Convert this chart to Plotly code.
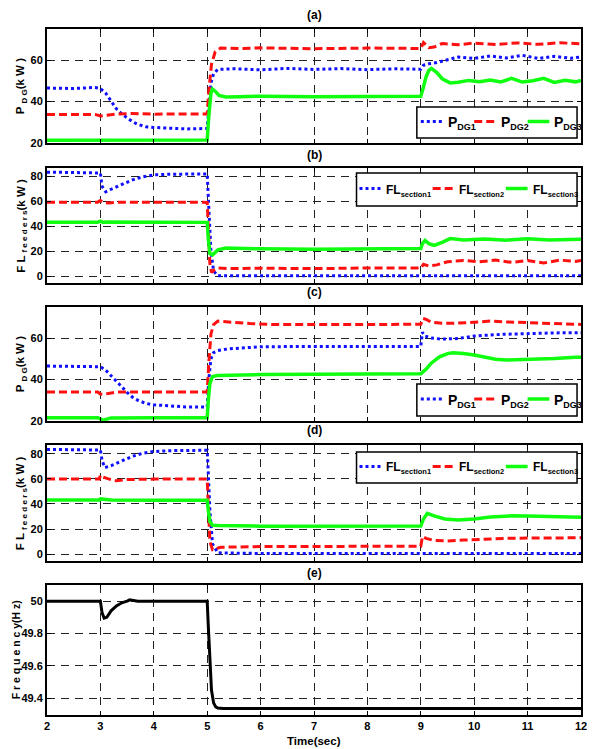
import plotly.graph_objects as go

# ---------------- data ----------------
# Panel (a): P_DG (kW)
t_a1 = [2.0, 2.5, 2.9, 3.0, 3.1, 3.2, 3.3, 3.4, 3.5, 3.6, 3.7, 3.85, 4.0, 4.3, 4.6, 5.0, 5.03, 5.07, 5.12, 5.2, 5.5, 6.0, 6.5, 7.0, 7.5, 8.0, 8.5, 9.0, 9.05, 9.15, 9.3, 9.5, 9.7, 10.0, 10.3, 10.6, 10.9, 11.2, 11.5, 11.8, 12.0]
v_a1 = [46.5, 46.3, 46.8, 46.3, 44.0, 40.5, 36.5, 34.0, 32.0, 30.3, 29.0, 27.8, 27.5, 27.0, 26.8, 27.0, 38.0, 49.0, 53.5, 55.5, 55.8, 55.3, 56.0, 55.5, 55.9, 55.4, 55.8, 55.6, 57.5, 58.2, 58.8, 60.2, 61.5, 60.8, 62.0, 61.0, 62.3, 60.8, 61.8, 60.9, 61.5]
t_a2 = [2.0, 2.9, 3.0, 3.1, 3.3, 3.6, 4.0, 4.5, 5.0, 5.03, 5.08, 5.15, 5.25, 5.6, 6.0, 7.0, 8.0, 9.0, 9.05, 9.15, 9.25, 9.4, 9.7, 10.0, 10.4, 10.8, 11.2, 11.6, 12.0]
v_a2 = [33.8, 33.8, 33.0, 33.3, 34.0, 34.2, 33.9, 34.0, 34.0, 45.0, 58.0, 64.0, 65.8, 65.6, 65.9, 65.5, 65.8, 65.6, 68.5, 66.0, 66.3, 68.0, 67.4, 68.2, 67.5, 68.3, 67.6, 68.4, 67.8]
t_a3 = [2.0, 3.0, 4.0, 5.0, 5.03, 5.07, 5.1, 5.15, 5.22, 5.35, 5.6, 6.0, 7.0, 8.0, 9.0, 9.05, 9.1, 9.15, 9.2, 9.3, 9.4, 9.55, 9.7, 9.9, 10.1, 10.3, 10.5, 10.7, 10.9, 11.1, 11.3, 11.5, 11.7, 11.9, 12.0]
v_a3 = [21.3, 21.5, 21.4, 21.5, 33.0, 44.0, 46.0, 45.0, 43.0, 42.2, 42.3, 42.6, 42.3, 42.6, 42.5, 47.0, 52.0, 55.0, 56.0, 54.0, 51.0, 49.0, 49.3, 50.2, 49.6, 50.4, 49.5, 51.2, 49.4, 50.0, 51.2, 49.2, 50.3, 49.5, 50.2]

# Panel (b): FL feeders (kW)
t_b1 = [2.0, 2.5, 3.0, 3.03, 3.1, 3.2, 3.4, 3.6, 3.8, 4.0, 4.3, 4.6, 5.0, 5.03, 5.07, 5.12, 5.2, 6.0, 7.0, 8.0, 9.0, 10.0, 11.0, 12.0]
v_b1 = [83.2, 82.8, 82.5, 72.0, 67.5, 69.5, 73.5, 77.0, 79.5, 81.0, 81.5, 81.8, 81.8, 55.0, 20.0, 4.0, 0.3, 0.2, 0.2, 0.2, 0.2, 0.2, 0.2, 0.2]
t_b2 = [2.0, 2.95, 3.0, 3.05, 3.15, 3.3, 4.0, 5.0, 5.02, 5.05, 5.08, 5.12, 5.2, 5.4, 6.0, 7.0, 8.0, 8.9, 9.0, 9.05, 9.15, 9.3, 9.5, 9.8, 10.1, 10.4, 10.7, 11.0, 11.3, 11.6, 11.9, 12.0]
v_b2 = [59.2, 59.2, 60.5, 59.0, 58.5, 59.0, 59.2, 59.0, 40.0, 10.0, 3.0, 4.5, 6.5, 6.0, 6.3, 6.0, 6.5, 6.8, 6.5, 9.5, 8.0, 9.0, 11.5, 12.5, 11.5, 12.8, 11.0, 12.5, 10.5, 12.8, 11.8, 12.6]
t_b3 = [2.0, 2.95, 3.0, 3.05, 3.1, 4.0, 5.0, 5.02, 5.05, 5.1, 5.2, 5.35, 6.0, 7.0, 8.0, 9.0, 9.03, 9.08, 9.15, 9.25, 9.4, 9.55, 9.8, 10.2, 10.6, 11.0, 11.4, 11.8, 12.0]
v_b3 = [43.0, 43.0, 44.0, 43.0, 43.3, 43.0, 43.0, 30.0, 18.0, 17.0, 21.0, 22.5, 21.8, 21.5, 21.8, 22.0, 26.0, 28.5, 26.0, 24.5, 27.0, 30.0, 29.0, 29.8, 28.8, 30.0, 29.0, 29.8, 29.5]

# Panel (c): P_DG (kW)
t_c1 = [2.0, 2.9, 3.0, 3.1, 3.2, 3.3, 3.4, 3.5, 3.6, 3.7, 3.85, 4.0, 4.3, 4.6, 5.0, 5.03, 5.07, 5.12, 5.2, 5.4, 5.7, 6.0, 7.0, 8.0, 9.0, 9.03, 9.08, 9.2, 9.4, 9.7, 10.0, 10.5, 11.0, 11.5, 12.0]
v_c1 = [46.5, 46.5, 46.2, 44.5, 42.0, 39.3, 36.5, 33.8, 31.5, 30.0, 28.5, 27.8, 27.2, 26.8, 26.8, 40.0, 50.0, 53.0, 54.0, 54.8, 55.3, 55.8, 56.0, 56.0, 56.0, 62.8, 61.0, 60.0, 59.5, 59.8, 61.0, 61.8, 62.2, 62.5, 62.6]
t_c2 = [2.0, 2.95, 3.0, 3.05, 3.15, 3.3, 4.0, 5.0, 5.03, 5.07, 5.12, 5.2, 5.4, 5.8, 6.3, 7.0, 8.0, 9.0, 9.04, 9.1, 9.2, 9.4, 9.6, 9.9, 10.3, 10.6, 11.0, 11.5, 12.0]
v_c2 = [34.0, 34.0, 33.0, 32.8, 33.3, 34.0, 34.0, 34.0, 48.0, 62.0, 66.5, 68.2, 67.8, 67.0, 66.5, 66.4, 66.5, 66.7, 69.5, 69.0, 67.6, 67.2, 67.1, 67.5, 68.2, 67.8, 67.3, 67.0, 66.6]
t_c3 = [2.0, 2.95, 3.0, 3.05, 3.1, 3.2, 4.0, 5.0, 5.02, 5.05, 5.1, 5.2, 6.0, 7.0, 8.0, 9.0, 9.1, 9.2, 9.35, 9.5, 9.6, 9.8, 10.0, 10.2, 10.4, 10.6, 11.0, 11.5, 11.9, 12.0]
v_c3 = [21.6, 21.6, 21.0, 20.3, 20.8, 21.5, 21.6, 21.6, 30.0, 38.0, 41.5, 42.0, 42.4, 42.6, 42.7, 42.8, 45.0, 48.0, 51.0, 52.5, 52.9, 52.6, 51.8, 50.6, 49.8, 49.4, 49.6, 50.1, 50.7, 50.7]

# Panel (d): FL feeders (kW)
t_d1 = [2.0, 2.9, 3.0, 3.03, 3.08, 3.2, 3.4, 3.6, 3.8, 4.0, 4.3, 5.0, 5.02, 5.05, 5.1, 5.2, 6.0, 7.0, 8.0, 9.0, 10.0, 11.0, 12.0]
v_d1 = [83.5, 83.2, 83.0, 75.0, 69.0, 70.5, 74.5, 78.0, 80.5, 81.8, 82.5, 82.8, 65.0, 35.0, 8.0, 1.0, 0.5, 0.5, 0.5, 0.5, 0.5, 0.5, 0.5]
t_d2 = [2.0, 2.98, 3.0, 3.05, 3.15, 3.3, 3.5, 4.0, 5.0, 5.02, 5.05, 5.1, 5.25, 6.0, 7.0, 8.0, 9.0, 9.03, 9.1, 9.25, 9.5, 9.8, 10.2, 10.6, 11.0, 11.5, 12.0]
v_d2 = [59.8, 59.8, 63.0, 61.5, 60.0, 58.5, 59.5, 59.8, 59.8, 40.0, 10.0, 3.5, 5.5, 6.0, 6.2, 6.3, 6.3, 14.0, 12.5, 10.8, 10.5, 11.2, 12.0, 12.6, 12.8, 13.0, 13.0]
t_d3 = [2.0, 2.98, 3.0, 3.1, 3.2, 4.0, 5.0, 5.02, 5.05, 5.1, 5.2, 6.0, 7.0, 8.0, 9.0, 9.05, 9.12, 9.25, 9.45, 9.7, 10.0, 10.3, 10.7, 11.0, 11.5, 12.0]
v_d3 = [43.2, 43.2, 44.0, 43.8, 43.2, 43.0, 43.0, 35.0, 26.0, 23.0, 22.8, 22.3, 22.5, 22.0, 22.4, 28.0, 32.5, 30.5, 28.0, 27.2, 28.0, 29.5, 30.5, 30.3, 29.6, 29.3]

# Panel (e): Frequency (Hz)
t_e = [2.0, 2.5, 3.0, 3.03, 3.07, 3.12, 3.2, 3.3, 3.4, 3.5, 3.55, 3.7, 4.0, 4.5, 5.0, 5.02, 5.05, 5.08, 5.12, 5.16, 5.2, 5.3, 6.0, 8.0, 10.0, 12.0]
v_e = [50.0, 50.0, 50.0, 49.93, 49.895, 49.9, 49.94, 49.97, 49.99, 50.0, 50.008, 50.0, 50.0, 50.0, 50.0, 49.85, 49.6, 49.45, 49.37, 49.345, 49.338, 49.335, 49.335, 49.335, 49.335, 49.335]

# series labels (base + subscript)
pdg_base, pdg_subs = "P", ["DG1", "DG2", "DG3"]
fl_base, fl_subs = "FL", ["section1", "section2", "section3"]
panel_titles = ["(a)", "(b)", "(c)", "(d)", "(e)"]
y_titles = ["P <sub>D G</sub>(k W )", "F L <sub>f e e d e r s</sub>(k W )",
            "P <sub>D G</sub>(k W )", "F L <sub>f e e d e r s</sub>(k W )", "F r e q u e n c y(H z)"]
x_title = "Time(sec)"
x_ticks = [2, 3, 4, 5, 6, 7, 8, 9, 10, 11, 12]
y_ticks = [[20, 40, 60], [0, 20, 40, 60, 80], [20, 40, 60], [0, 20, 40, 60, 80], [49.4, 49.6, 49.8, 50]]
y_ranges = [[20, 75], [-5.5, 86.5], [20, 75], [-5.5, 87], [49.295, 50.1]]

# ---------------- styling / layout ----------------
OFF = 8                      # page body margin of the browser
W, H = 595 - OFF, 749 - OFF  # figure size
L, R, T, B = 47, 587, 28, 715  # plot area in page pixels
FONT = "Liberation Sans, Arial, Helvetica, sans-serif"
BLUE, RED, GREEN = "#1010ff", "#ff1010", "#10ff10"
panel_px = [(29, 143), (168, 283), (307, 421), (445, 561), (585, 715)]
title_px = [15, 155, 292, 430, 573]
ytitle_x = [21, 21, 21, 21, 16]


def py(p):
    return (B - p) / (B - T)


def px(p):
    return (p - L) / (R - L)


def label(base, sub, sub_px):
    return f'{base}<sub><span style="font-size:{sub_px}px">{sub}</span></sub>'


names_pdg = [label(pdg_base, s, 9) for s in pdg_subs]
names_fl = [label(fl_base, s, 7.5) for s in fl_subs]

styles = [dict(color=BLUE, width=3, dash="dot"), dict(color=RED, width=3, dash="8px,4px"),
          dict(color=GREEN, width=3.5, dash="solid")]

fig = go.Figure()
series = [
    (1, names_pdg, [(t_a1, v_a1), (t_a2, v_a2), (t_a3, v_a3)]),
    (2, names_fl, [(t_b1, v_b1), (t_b2, v_b2), (t_b3, v_b3)]),
    (3, names_pdg, [(t_c1, v_c1), (t_c2, v_c2), (t_c3, v_c3)]),
    (4, names_fl, [(t_d1, v_d1), (t_d2, v_d2), (t_d3, v_d3)]),
]
for k, names, data in series:
    for (tt, vv), nm, st in zip(data, names, styles):
        fig.add_trace(go.Scatter(x=tt, y=vv, mode="lines", name=nm, line=st, showlegend=False,
                                 xaxis="x" if k == 1 else f"x{k}", yaxis="y" if k == 1 else f"y{k}"))
fig.add_trace(go.Scatter(x=t_e, y=v_e, mode="lines", name="Frequency", line=dict(color="black", width=3),
                         xaxis="x5", yaxis="y5", showlegend=False))

axis_common = dict(showline=True, linecolor="black", linewidth=2, mirror="ticks",
                   ticks="inside", ticklen=4, tickcolor="black", tickwidth=1,
                   showgrid=True, gridcolor="#222", griddash="8px,6px", gridwidth=1,
                   zeroline=False, tickfont=dict(family=FONT, size=11, color="black", weight="bold"))

layout = dict(width=W, height=H,
              margin=dict(l=L - OFF, r=595 - R, t=T - OFF, b=749 - B),
              paper_bgcolor="white", plot_bgcolor="white", showlegend=False)
for i in range(5):
    k = "" if i == 0 else str(i + 1)
    top, bot = panel_px[i]
    layout[f"xaxis{k}"] = dict(axis_common, domain=[0, 1], anchor=f"y{k}", range=[2, 12],
                               tickvals=x_ticks, showticklabels=(i == 4))
    layout[f"yaxis{k}"] = dict(axis_common, domain=[py(bot), py(top)], anchor=f"x{k}",
                               range=y_ranges[i], tickvals=y_ticks[i])

# ---- legends drawn as boxed keys (line sample + label) inside each panel ----
legend_boxes = [(421, 583, 107, 138), (360, 583, 173, 206), (421, 583, 384, 416), (360, 583, 452, 483)]
legend_sample_x = [[425, 479, 533], [363, 437, 511], [425, 479, 533], [363, 437, 511]]
legend_font = [14, 12, 14, 12]
legend_names = [names_pdg, names_fl, names_pdg, names_fl]
shapes, ann = [], []
for (x0, x1, y0, y1), sx, nms, fs in zip(legend_boxes, legend_sample_x, legend_names, legend_font):
    shapes.append(dict(type="rect", xref="paper", yref="paper", x0=px(x0), x1=px(x1), y0=py(y1), y1=py(y0),
                       line=dict(color="black", width=1.5), fillcolor="white", layer="above"))
    yc = (y0 + y1) / 2 - 1
    for s, nm, st in zip(sx, nms, styles):
        shapes.append(dict(type="line", xref="paper", yref="paper", x0=px(s), x1=px(s + 22), y0=py(yc), y1=py(yc),
                           line=dict(color=st["color"], width=st["width"], dash=st["dash"]), layer="above"))
        ann.append(dict(text=nm, x=px(s + 25), y=py(yc + 2), xref="paper", yref="paper", xanchor="left",
                        yanchor="middle", showarrow=False,
                        font=dict(family=FONT, size=fs, color="black", weight="bold")))

for i in range(5):
    ann.append(dict(text=panel_titles[i], x=px(317), y=py(title_px[i]), xref="paper", yref="paper",
                    xanchor="center", yanchor="middle", showarrow=False,
                    font=dict(family=FONT, size=12, color="black", weight="bold")))
    top, bot = panel_px[i]
    ann.append(dict(text=y_titles[i], x=px(ytitle_x[i]), y=py((top + bot) / 2), xref="paper", yref="paper",
                    xanchor="center", yanchor="middle", showarrow=False, textangle=-90,
                    font=dict(family=FONT, size=10.5 if i == 4 else 11.5, color="black", weight="bold")))
ann.append(dict(text=x_title, x=px(317), y=py(741), xref="paper", yref="paper", showarrow=False,
                xanchor="center", yanchor="middle",
                font=dict(family=FONT, size=11.5, color="black", weight="bold")))
layout["annotations"] = ann
layout["shapes"] = shapes
fig.update_layout(**layout)
fig.write_html("out.html")
